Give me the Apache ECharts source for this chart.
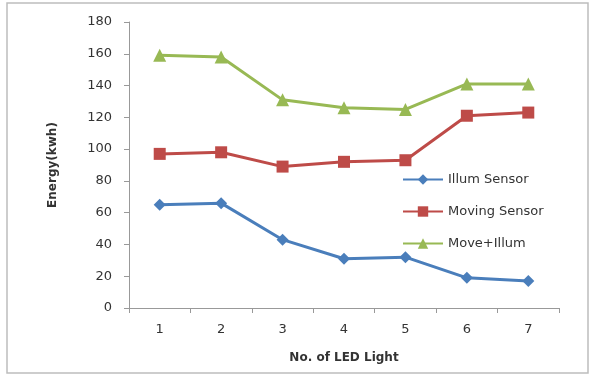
<!DOCTYPE html>
<html><head><meta charset="utf-8">
<script src="https://cdn.jsdelivr.net/npm/echarts@6/dist/echarts.min.js"></script>
<style>html,body{margin:0;padding:0;background:#fff}#c{width:596px;height:382px}</style>
</head><body><div id="c"></div>
<script>
const categories = ['1','2','3','4','5','6','7'];
const illumSensor = [65, 66, 43, 31, 32, 19, 17];
const movingSensor = [97, 98, 89, 92, 93, 121, 123];
const moveIllum = [159, 158, 131, 126, 125, 141, 141];
const seriesNames = ['Illum Sensor', 'Moving Sensor', 'Move+Illum'];

const chart = echarts.init(document.getElementById('c'));
const font = 'DejaVu Sans';
chart.setOption({
  animation: false,
  graphic: [{type:'rect', shape:{x:7, y:3, width:581, height:370}, style:{fill:'none', stroke:'#bdbdbd', lineWidth:1.5}}],
  grid: {left:129, right:37, top:22, bottom:74},
  legend: {
    orient:'vertical', left:397, top:168, itemGap:19, itemWidth:40, itemHeight:13,
    textStyle:{fontFamily:font, fontSize:13, color:'#333'},
    data: seriesNames
  },
  xAxis: {
    type:'category', data:categories, boundaryGap:true,
    name:'No. of LED Light', nameLocation:'middle', nameGap:44,
    nameTextStyle:{fontFamily:font, fontWeight:'bold', fontSize:12, color:'#333'},
    axisLine:{lineStyle:{color:'#999'}}, axisTick:{show:true, length:5, lineStyle:{color:'#999'}},
    axisLabel:{fontFamily:font, fontSize:13, color:'#333', margin:15}
  },
  yAxis: {
    type:'value', min:0, max:180, interval:20,
    name:'Energy(kwh)', nameLocation:'middle', nameGap:70, nameRotate:90,
    nameTextStyle:{fontFamily:font, fontWeight:'bold', fontSize:12, color:'#333'},
    axisLine:{show:true, lineStyle:{color:'#999'}}, axisTick:{show:true, length:5, lineStyle:{color:'#999'}},
    splitLine:{show:false},
    axisLabel:{fontFamily:font, fontSize:13, color:'#333', margin:17}
  },
  series: [
    {name:seriesNames[0], type:'line', data:illumSensor, symbol:'diamond', symbolSize:12,
     lineStyle:{width:3, color:'#4A7EBB'}, itemStyle:{color:'#4A7EBB'}},
    {name:seriesNames[1], type:'line', data:movingSensor, symbol:'rect', symbolSize:12,
     lineStyle:{width:3, color:'#BE4B48'}, itemStyle:{color:'#BE4B48'}},
    {name:seriesNames[2], type:'line', data:moveIllum, symbol:'triangle', symbolSize:13,
     lineStyle:{width:3, color:'#98B954'}, itemStyle:{color:'#98B954'}}
  ]
});
</script></body></html>
